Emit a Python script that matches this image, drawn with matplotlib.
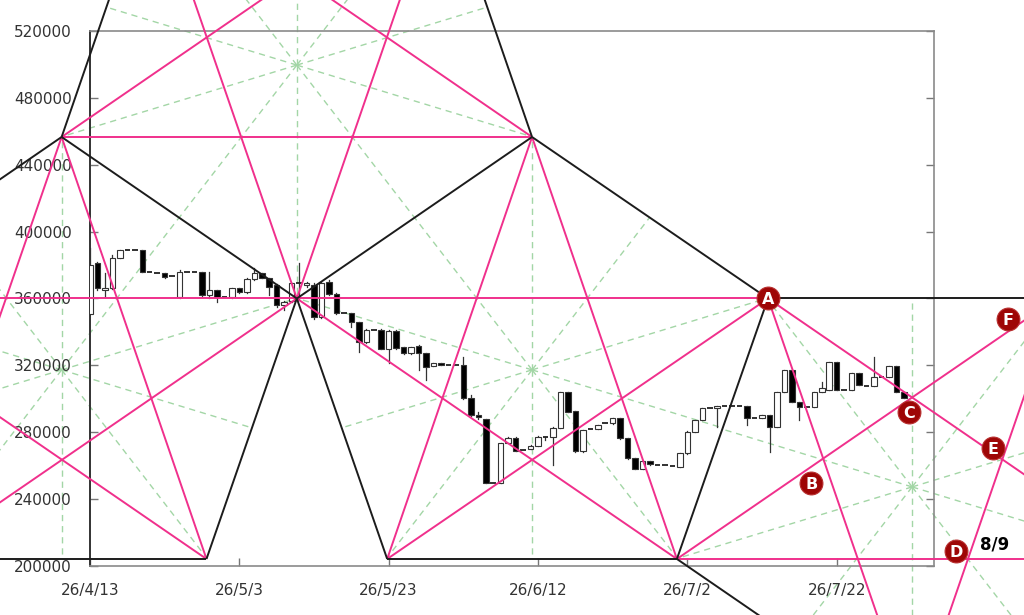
import numpy as np
import matplotlib
matplotlib.use("Agg")
import matplotlib.pyplot as plt
from matplotlib.patches import Rectangle

plt.rcParams['font.family'] = ['DejaVu Sans']

# ---------------- data ----------------
tick_days = [0, 20, 40, 60, 80, 100]
tick_labels = ["26/4/13", "26/5/3", "26/5/23", "26/6/12", "26/7/2", "26/7/22"]
y_ticks = list(range(200000, 520001, 40000))

# daily candles (thousand yen), day index 0 = 26/4/13
opens = [351, 381, 365, 366, 384, 389, 389, 389, 376, 375.5,
         375.2, 373.4, 361, 376, 376, 376, 362, 365, 361, 361,
         366.3, 364, 371.7, 375.2, 372.3, 368, 356, 358.5, 369, 368,
         368, 349, 370, 362.7, 351.3, 351.3, 345.9, 334, 341.2, 341.2,
         329.8, 340.6, 331, 327.4, 331.6, 327.4, 319.6, 321.4, 320.2, 320.2,
         320.2, 300.5, 290.3, 287.9, 249.6, 249.6, 273.6, 276.8, 269.4, 270,
         272, 277.4, 277.4, 282.7, 303.9, 292.7, 268.6, 281.7, 281.9, 285.3,
         285.3, 288.3, 276.3, 264.4, 258, 262.8, 260.4, 260.4, 260, 259.4,
         267.4, 280.3, 287.3, 294.3, 294.5, 295.7, 295.7, 295.7, 295.7, 288.5,
         288.5, 290.3, 283.1, 304.1, 317.2, 298.1, 295.1, 295.1, 304.1, 305.3,
         322, 305.3, 305.3, 315.4, 307.7, 307.7, 313, 313, 319.6, 304.1]
highs = [390, 382, 375, 386, 389, 389, 389, 389, 376, 375.5,
         375.2, 373.4, 377, 376, 376, 376, 376, 365, 361, 366.5,
         366.5, 372, 378, 375.5, 372.5, 368.5, 358.5, 369.5, 381, 370,
         369, 370, 371, 363, 351.3, 351.5, 346, 341.5, 341.2, 341.5,
         341, 341, 331.2, 331.2, 332, 327.6, 321.6, 321.4, 320.2, 320.2,
         325, 302, 292, 288, 249.6, 273.8, 277, 277, 269.4, 272.2,
         277.6, 277.4, 282.9, 304.1, 304.1, 292.9, 281.5, 281.7, 284.5, 285.3,
         288.5, 288.5, 276.5, 264.6, 263, 263, 260.4, 260.4, 260, 267.6,
         280.5, 287.5, 294.5, 294.3, 295.9, 295.7, 295.7, 295.7, 295.9, 288.5,
         290.5, 290.5, 304.3, 317.4, 317.4, 298.3, 295.1, 304.3, 310, 322.2,
         322.2, 305.3, 315.6, 315.6, 307.7, 325, 313, 319.8, 319.8, 304.3]
lows = [351, 365, 361, 365.5, 384, 389, 389, 376, 376, 375.2,
        372.5, 373.4, 360.5, 376, 376, 361.5, 360, 358, 361, 360.5,
        363.5, 363.5, 371, 372, 362, 355, 353, 358, 359, 367,
        348, 348.5, 362, 351, 351.3, 343, 328, 333.5, 341.2, 329.5,
        321.4, 330, 327, 327, 317.2, 311.2, 319.4, 320, 320.2, 320.2,
        300, 290, 287.9, 249.4, 249.6, 249.4, 273.4, 268.6, 269.4, 269.8,
        271.8, 275.4, 260.4, 282.5, 292, 268.4, 268.4, 281.7, 281.7, 285.3,
        285.1, 276.1, 264.2, 257.8, 257.8, 260.6, 260.4, 260.4, 260, 259.2,
        267.2, 280.1, 287.1, 294.3, 283.1, 295.7, 295.7, 295.7, 284.3, 288.5,
        288.3, 268.2, 282.9, 303.9, 297.9, 287.3, 295.1, 294.9, 303.9, 305.1,
        305.1, 305.3, 305.1, 308.1, 307.7, 307.5, 313, 312.8, 303.9, 300.3]
closes = [380, 366, 366.3, 384, 389, 389, 389, 376, 376, 375.2,
          373, 373.4, 376, 376, 376, 362, 365, 361, 361, 366.3,
          364, 371.7, 375.2, 372.3, 367, 356, 358, 369.3, 369.3, 369.3,
          349, 369.3, 362.7, 351.3, 351.3, 345.9, 334, 341.2, 341.2, 329.8,
          340.6, 330.4, 327.4, 331, 327.4, 319, 321.4, 320.2, 320.2, 320.2,
          300.5, 290.3, 289.1, 249.6, 249.6, 273.6, 276.8, 268.8, 269.4, 272,
          277.4, 277.4, 282.7, 303.9, 292.3, 268.6, 281.3, 281.7, 284.3, 285.3,
          288.3, 276.3, 264.4, 258, 262.8, 260.8, 260.4, 260.4, 260, 267.4,
          280.3, 287.3, 294.3, 294.3, 295.7, 295.7, 295.7, 295.7, 288.5, 288.5,
          290.3, 283.1, 304.1, 317.2, 298.1, 295.1, 295.1, 304.1, 306.5, 322,
          305.3, 305.3, 315.4, 308.3, 307.7, 313, 313, 319.6, 304.1, 300.5]

# construction pivots (day index, price)
pivot_names = ["T1", "M1", "T2", "A", "B1", "B2", "B3", "L3"]
pivot_days = [-3.8, 27.7, 59.2, 90.8, 15.6, 39.8, 78.6, 122.2]
pivot_prices = [456600, 360000, 456600, 360000, 204200, 204200, 204200, 264000]

# centres of the green bisector stars
star_days = [27.7, 59.2, 110.1, -3.8]
star_prices = [499600, 317300, 247300, 317300]

# labelled points
mark_labels = ["A", "B", "C", "D", "E", "F"]
mark_days = [90.8, 96.6, 109.7, 116.0, 120.9, 122.9]
mark_prices = [360000, 249600, 292100, 209000, 270600, 347700]
note_text = "8/9"
note_day, note_price = 121.2, 212600

# line slopes (price per day)
SHALLOW = 3067.0
STEEP = 12950.0
BIS1 = 1360.0
BIS2 = 5790.0
FAR = 150.0

# ---------------- figure ----------------
fig = plt.figure(figsize=(10.24, 6.15), dpi=100)
ax = fig.add_axes([90/1024, 49/615, 844/1024, 535/615])
ax.set_xlim(0, 113.03)
ax.set_ylim(200000, 520000)

PINK = "#f0308c"
BLACK = "#1c1c1c"
GREEN = "#a3d6a6"

P = {n: (d, p) for n, d, p in zip(pivot_names, pivot_days, pivot_prices)}

def ray(name, sx, slope):
    d, p = P[name]
    return (d, p), (d + sx * FAR, p + sx * FAR * slope)

black_seg_pairs = [("T1", "M1"), ("M1", "T2"), ("T2", "A"), ("A", "B3"),
                   ("M1", "B1"), ("M1", "B2"), ("B2", "B3")]
black_ray_specs = [("B1", -1, 0.0), ("A", 1, 0.0), ("T1", 1, STEEP),
                   ("T1", -1, SHALLOW), ("T2", -1, -STEEP), ("B3", 1, -SHALLOW)]
pink_seg_pairs = [("T1", "T2"), ("T1", "B1"), ("M1", "B3"), ("T2", "B2"),
                  ("T2", "B3"), ("A", "B2")]
pink_ray_specs = [("A", -1, 0.0), ("B3", 1, 0.0), ("T1", 1, SHALLOW),
                  ("T1", -1, STEEP), ("B1", -1, -SHALLOW), ("M1", -1, SHALLOW),
                  ("M1", -1, -STEEP), ("M1", 1, STEEP), ("T2", -1, -SHALLOW),
                  ("A", 1, -SHALLOW), ("A", 1, -STEEP), ("B3", 1, SHALLOW),
                  ("L3", 1, STEEP), ("L3", -1, STEEP)]

black_lines = [(P[a], P[b]) for a, b in black_seg_pairs] + \
              [ray(*s) for s in black_ray_specs]
pink_lines = [(P[a], P[b]) for a, b in pink_seg_pairs] + \
             [ray(*s) for s in pink_ray_specs]

# ---- green bisector stars: spokes run until they meet a black line ----
def cross(a, b):
    return a[0] * b[1] - a[1] * b[0]

def cast(p0, d):
    P0 = np.array([p0[0], p0[1] / 1000.0])
    D = np.array([d[0], d[1] / 1000.0])
    best = None
    for (q0, q1) in black_lines:
        Q = np.array([q0[0], q0[1] / 1000.0])
        E = np.array([q1[0] - q0[0], (q1[1] - q0[1]) / 1000.0])
        den = cross(D, E)
        if abs(den) < 1e-9:
            continue
        QP = Q - P0
        t = cross(QP, E) / den
        u = cross(QP, D) / den
        if t > 1e-4 and -0.003 <= u <= 1.003:
            if best is None or t < best:
                best = t
    if best is None:
        best = FAR if d[0] != 0 else 1500.0
    end = P0 + best * D
    return (end[0], end[1] * 1000.0)

dirs = []
for g in (BIS1, BIS2):
    dirs += [(1, g), (1, -g), (-1, g), (-1, -g)]
dirs += [(0, 1000.0), (0, -1000.0)]

for sd, sp in zip(star_days, star_prices):
    for dv in dirs:
        e = cast((sd, sp), dv)
        ax.plot([sd, e[0]], [sp, e[1]], color=GREEN, lw=1.0,
                linestyle=(0, (4.5, 3.5)), clip_on=False, zorder=1)

# ---- candles ----
W = 0.74
for i, (o, h, l, c) in enumerate(zip(opens, highs, lows, closes)):
    o, h, l, c = o * 1000, h * 1000, l * 1000, c * 1000
    if h - l > 300:
        ax.plot([i, i], [l, h], color="#333333", lw=0.9, zorder=2)
    if abs(c - o) < 400:
        ax.plot([i - W / 2, i + W / 2], [c, c], color="#222222", lw=1.3,
                zorder=3, solid_capstyle="butt")
    else:
        fc = "white" if c > o else "black"
        ax.add_patch(Rectangle((i - W / 2, min(o, c)), W, abs(c - o),
                               facecolor=fc, edgecolor="#333333", lw=0.8,
                               zorder=3))

# ---- construction lines ----
for (a, b) in pink_lines:
    ax.plot([a[0], b[0]], [a[1], b[1]], color=PINK, lw=1.4,
            clip_on=False, zorder=4, solid_capstyle="butt")
for (a, b) in black_lines:
    ax.plot([a[0], b[0]], [a[1], b[1]], color=BLACK, lw=1.4,
            clip_on=False, zorder=5, solid_capstyle="butt")

# ---- labelled markers ----
ax.scatter(mark_days, mark_prices, s=270, color="#9e0606",
           edgecolors="#b83030", linewidths=0.8, zorder=7, clip_on=False)
for lab, d, p in zip(mark_labels, mark_days, mark_prices):
    ax.text(d, p, lab, color="white", fontsize=11.5, fontweight="bold",
            ha="center", va="center_baseline", zorder=8, clip_on=False)
ax.text(note_day, note_price, note_text, color="black", fontsize=12,
        fontweight="bold", ha="center", va="center", zorder=8, clip_on=False)

# ---- axes styling ----
ax.set_xticks(tick_days)
ax.set_xticklabels(tick_labels)
ax.set_yticks(y_ticks)
ax.set_yticklabels([str(v) for v in y_ticks])
ax.tick_params(axis="both", direction="in", length=6, width=1,
               color="#777777", labelcolor="#333333", labelsize=11)
ax.tick_params(axis="y", right=True, left=True, pad=13)
ax.tick_params(axis="x", top=False, pad=12)
for side in ("top", "right", "bottom"):
    ax.spines[side].set_color("#8a8a8a")
    ax.spines[side].set_linewidth(1.2)
ax.spines["left"].set_color("#333333")
ax.spines["left"].set_linewidth(1.4)
ax.set_facecolor("none")
ax.set_zorder(1)

fig.savefig("out.png", dpi=100)
